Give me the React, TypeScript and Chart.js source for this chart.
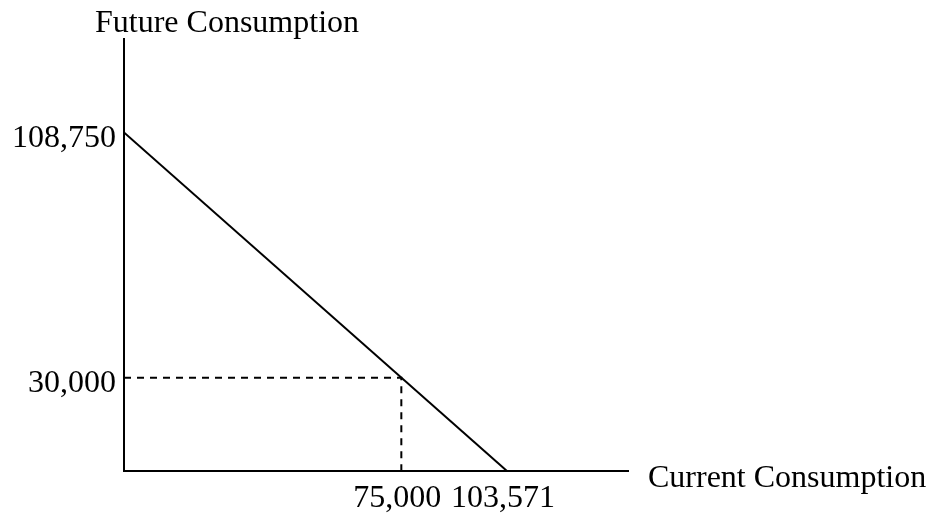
import React, { useEffect, useRef } from "react";
import { Chart, registerables } from "chart.js";

Chart.register(...registerables);

// ---- data ----
const budgetX = [0, 103571];
const budgetY = [108750, 0];
const guideX = [0, 75000, 75000];
const guideY = [30000, 30000, 0];
const xTickValues = [75000, 103571];
const yTickValues = [30000, 108750];
const xAxisTitle = "Current Consumption";
const yAxisTitle = "Future Consumption";
const xAxisMax = 136300;
const yAxisMax = 138800;

const FONT = "Liberation Serif, 'Times New Roman', serif";
const fmt = (v: number) => Number(v).toLocaleString("en-US");

const axisTitles = {
  id: "axisTitles",
  afterDraw(chart: any) {
    const { ctx, chartArea } = chart;
    ctx.save();
    ctx.fillStyle = "#000";
    ctx.font = `32px ${FONT}`;
    ctx.textAlign = "left";
    ctx.textBaseline = "alphabetic";
    ctx.fillText(yAxisTitle, chartArea.left - 29, chartArea.top - 7);
    ctx.fillText(xAxisTitle, chartArea.right + 20, chartArea.bottom + 16);
    ctx.restore();
  },
};

export default function App() {
  const ref = useRef<HTMLCanvasElement | null>(null);

  useEffect(() => {
    if (!ref.current) return;
    const chart = new Chart(ref.current, {
      type: "line",
      data: {
        datasets: [
          {
            data: budgetX.map((x, i) => ({ x, y: budgetY[i] })),
            borderColor: "#000",
            borderWidth: 2,
            pointRadius: 0,
            fill: false,
          },
          {
            data: guideX.map((x, i) => ({ x, y: guideY[i] })),
            borderColor: "#000",
            borderWidth: 2,
            borderDash: [7, 6],
            pointRadius: 0,
            fill: false,
          },
        ],
      },
      options: {
        animation: false,
        responsive: true,
        maintainAspectRatio: false,
        layout: { padding: { top: 39, right: 304, left: 0, bottom: 0 } },
        plugins: {
          legend: { display: false },
          tooltip: { enabled: false },
          title: { display: false },
        },
        scales: {
          x: {
            type: "linear",
            min: 0,
            max: xAxisMax,
            grid: { display: false, drawTicks: false },
            border: { display: true, color: "#000", width: 2 },
            afterBuildTicks: (scale: any) => {
              scale.ticks = xTickValues.map((v) => ({ value: v }));
            },
            afterFit: (scale: any) => {
              scale.height = 44;
            },
            ticks: {
              padding: 8,
              labelOffset: -4,
              color: "#000",
              font: { family: FONT, size: 32 },
              maxRotation: 0,
              autoSkip: false,
              callback: (v: any) => fmt(v),
            },
          },
          y: {
            type: "linear",
            min: 0,
            max: yAxisMax,
            grid: { display: false, drawTicks: false },
            border: { display: true, color: "#000", width: 2 },
            afterBuildTicks: (scale: any) => {
              scale.ticks = yTickValues.map((v) => ({ value: v }));
            },
            afterFit: (scale: any) => {
              scale.width = 124;
            },
            ticks: {
              padding: 8,
              labelOffset: 6,
              color: "#000",
              font: { family: FONT, size: 32 },
              autoSkip: false,
              callback: (v: any) => fmt(v),
            },
          },
        },
      },
      plugins: [axisTitles],
    });
    return () => chart.destroy();
  }, []);

  return (
    <div style={{ width: 932, height: 515, position: "relative", background: "#fff" }}>
      <style>{`body{margin:0;background:#fff}`}</style>
      <canvas ref={ref} />
    </div>
  );
}
